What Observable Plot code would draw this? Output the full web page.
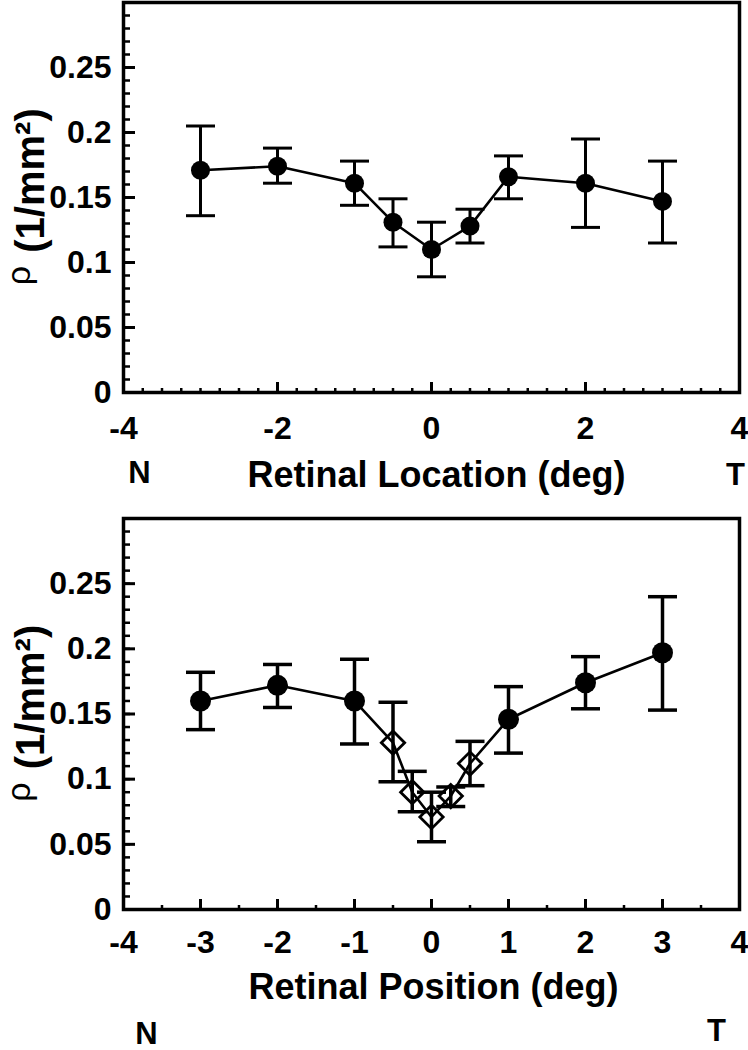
<!DOCTYPE html>
<html>
<head>
<meta charset="utf-8">
<script src="https://cdn.jsdelivr.net/npm/d3@7"></script>
<script src="https://cdn.jsdelivr.net/npm/@observablehq/plot@0.6"></script>
<style>
  html, body { margin: 0; padding: 0; background: #fff; }
  #chart svg { display: block; }
</style>
</head>
<body>
<div id="chart"></div>
<script>
// ---- Data: top panel (Retinal Location) ----
const topX  = [-3, -2, -1, -0.5, 0, 0.5, 1, 2, 3];
const topY  = [0.171, 0.174, 0.161, 0.131, 0.110, 0.128, 0.166, 0.161, 0.147];
const topHi = [0.205, 0.188, 0.178, 0.149, 0.131, 0.141, 0.182, 0.195, 0.178];
const topLo = [0.136, 0.161, 0.144, 0.112, 0.089, 0.115, 0.149, 0.127, 0.115];

// ---- Data: bottom panel (Retinal Position) ----
const botX    = [-3, -2, -1, -0.5, -0.25, 0, 0.25, 0.5, 1, 2, 3];
const botY    = [0.160, 0.172, 0.160, 0.128, 0.090, 0.071, 0.087, 0.112, 0.146, 0.174, 0.197];
const botHi   = [0.182, 0.188, 0.192, 0.159, 0.106, 0.090, 0.094, 0.129, 0.171, 0.194, 0.240];
const botLo   = [0.138, 0.155, 0.127, 0.098, 0.075, 0.052, 0.079, 0.095, 0.120, 0.154, 0.153];
const botKind = ["circle", "circle", "circle", "diamond", "diamond", "diamond", "diamond", "diamond", "circle", "circle", "circle"];

// ---- Ticks and labels ----
const yTicks        = [0, 0.05, 0.1, 0.15, 0.2, 0.25];
const yMinorTicks   = d3.range(1, 30).map(i => i / 100);
const xTicksTop     = [-4, -2, 0, 2, 4];
const xMinorTop     = d3.range(-15, 16).map(i => i / 4).filter(v => v % 2 !== 0);
const xTicksBottom  = [-4, -3, -2, -1, 0, 1, 2, 3, 4];
const xMinorBottom  = [-3.5, -2.5, -1.5, -0.5, 0.5, 1.5, 2.5, 3.5];
const topXLabel     = "Retinal Location (deg)";
const bottomXLabel  = "Retinal Position (deg)";
const yTitleSymbol  = "ρ";
const yTitleUnit    = "(1/mm²)";
const leftEnd       = "N";
const rightEnd      = "T";

const FONT = "'Liberation Sans', Arial, Helvetica, sans-serif";
const fmt = d => String(d);
const capSymbol = { draw(ctx) { ctx.moveTo(-14.5, 0); ctx.lineTo(14.5, 0); } };

function rows(xs, ys, his, los, kinds) {
  return xs.map((x, i) => ({ x, y: ys[i], hi: his[i], lo: los[i], kind: kinds ? kinds[i] : "circle" }));
}

function axisMarks(xMajor, xMinor, tickPad) {
  return [
    Plot.axisY(yTicks, { anchor: "left", tickSize: 0, tickPadding: 12, tickFormat: fmt,
      fontSize: 32, fontWeight: "bold", label: null }),
    Plot.axisY(yTicks, { anchor: "right", frameAnchor: "left", tickSize: 11, fill: "none",
      label: null, strokeWidth: 3 }),
    Plot.axisY(yMinorTicks, { anchor: "right", frameAnchor: "left", tickSize: 6, fill: "none",
      label: null, strokeWidth: 2.5 }),
    Plot.axisX(xMajor, { anchor: "bottom", tickSize: 0, tickPadding: tickPad, tickFormat: fmt,
      fontSize: 32, fontWeight: "bold", label: null }),
    Plot.axisX(xMajor, { anchor: "top", frameAnchor: "bottom", tickSize: 11, fill: "none",
      label: null, strokeWidth: 3 }),
    Plot.axisX(xMinor, { anchor: "top", frameAnchor: "bottom", tickSize: 5, fill: "none",
      label: null, strokeWidth: 2.5 })
  ];
}

function titleMarks(xLabel, lab, nPos, tPos) {
  return [
    Plot.text([xLabel], { text: d => d, frameAnchor: "bottom", dx: lab.dx, dy: lab.dy,
      lineAnchor: "middle", textAnchor: "middle", fontSize: 36, fontWeight: "bold" }),
    Plot.text([leftEnd], { text: d => d, frameAnchor: "bottom-left", dx: nPos.dx, dy: nPos.dy,
      lineAnchor: "middle", textAnchor: "middle", fontSize: 31, fontWeight: "bold" }),
    Plot.text([rightEnd], { text: d => d, frameAnchor: "bottom-right", dx: tPos.dx, dy: tPos.dy,
      lineAnchor: "middle", textAnchor: "middle", fontSize: 31, fontWeight: "bold" }),
    Plot.text([yTitleUnit], { text: d => d, frameAnchor: "left", rotate: -90, dx: -92, dy: -17,
      lineAnchor: "middle", textAnchor: "middle", fontSize: 40, fontWeight: "bold" }),
    Plot.text([yTitleSymbol], { text: d => d, frameAnchor: "left", rotate: -90, dx: -104, dy: 78,
      lineAnchor: "middle", textAnchor: "middle", fontSize: 34, fontWeight: "normal" })
  ];
}

function panel({ data, height, marginTop, marginBottom, xMajor, xMinor, tickPad, xLabel, lab, nPos, tPos, r, barW }) {
  const circles = data.filter(d => d.kind === "circle");
  const diamonds = data.filter(d => d.kind === "diamond");
  return Plot.plot({
    width: 748,
    height,
    marginLeft: 123,
    marginRight: 9,
    marginTop,
    marginBottom,
    style: { fontFamily: FONT, background: "white", color: "black", overflow: "visible" },
    x: { domain: [-4, 4], label: null },
    y: { domain: [0, 0.3], label: null },
    marks: [
      ...axisMarks(xMajor, xMinor, tickPad),
      Plot.ruleX(data, { x: "x", y1: "lo", y2: "hi", stroke: "black", strokeWidth: barW }),
      Plot.dot(data, { x: "x", y: "hi", symbol: capSymbol, fill: "none", stroke: "black", strokeWidth: barW }),
      Plot.dot(data, { x: "x", y: "lo", symbol: capSymbol, fill: "none", stroke: "black", strokeWidth: barW }),
      Plot.line(data, { x: "x", y: "y", stroke: "black", strokeWidth: 2.6 }),
      Plot.dot(circles, { x: "x", y: "y", r, fill: "black", stroke: "none" }),
      Plot.dot(diamonds, { x: "x", y: "y", symbol: "diamond2", r: 10.5, fill: "none", stroke: "black", strokeWidth: 2.8 }),
      Plot.frame({ stroke: "black", strokeWidth: 3.5 }),
      ...titleMarks(xLabel, lab, nPos, tPos)
    ]
  });
}

const chart = document.getElementById("chart");

chart.append(panel({
  data: rows(topX, topY, topHi, topLo),
  height: 500, marginTop: 2, marginBottom: 108,
  xMajor: xTicksTop, xMinor: xMinorTop, tickPad: 24,
  xLabel: topXLabel, lab: { dx: 5, dy: 83 },
  nPos: { dx: 16, dy: 81 }, tPos: { dx: -4, dy: 83 },
  r: 9.5, barW: 3
}));

chart.append(panel({
  data: rows(botX, botY, botHi, botLo, botKind),
  height: 550, marginTop: 18, marginBottom: 141,
  xMajor: xTicksBottom, xMinor: xMinorBottom, tickPad: 21,
  xLabel: bottomXLabel, lab: { dx: 2, dy: 78 },
  nPos: { dx: 23, dy: 125 }, tPos: { dx: -23, dy: 122 },
  r: 10.5, barW: 3.5
}));
</script>
</body>
</html>
